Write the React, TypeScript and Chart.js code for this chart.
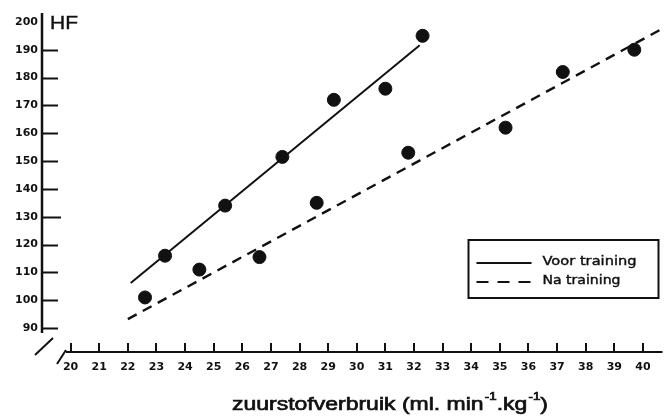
import React, { useEffect, useRef } from "react";
import { Chart, registerables } from "chart.js";

Chart.register(...registerables);

// Data
const voorX = [23.3, 25.4, 27.4, 29.2, 31.0, 32.3];
const voorY = [116, 134, 151.5, 172, 176, 195];
const naX = [22.6, 24.5, 26.6, 28.6, 31.8, 35.2, 37.2, 39.7];
const naY = [101, 111, 115.5, 135, 153, 162, 182, 190];
// Fitted lines (end points)
const voorLineX = [22.1, 32.2];
const voorLineY = [106.2, 191.6];
const naLineX = [22.0, 40.65];
const naLineY = [93.2, 197.4];
// Axis labels
const xTickValues = [20, 21, 22, 23, 24, 25, 26, 27, 28, 29, 30, 31, 32, 33, 34, 35, 36, 37, 38, 39, 40];
const yTickValues = [90, 100, 110, 120, 130, 140, 150, 160, 170, 180, 190, 200];
const legendLabels = ["Voor training", "Na training"];
const yTitle = "HF";
const xTitleParts = [
  { t: "zuurstofverbruik (ml. min", sup: false },
  { t: "-1", sup: true },
  { t: ".kg", sup: false },
  { t: "-1", sup: true },
  { t: ")", sup: false },
];

const pts = (xs: number[], ys: number[]) => xs.map((x, i) => ({ x, y: ys[i] }));

export default function App() {
  const ref = useRef<HTMLCanvasElement>(null);

  useEffect(() => {
    document.body.style.margin = "0";
    const canvas = ref.current!;
    const ink = "#111";

    const stretchText = (ctx: CanvasRenderingContext2D, text: string, x: number, y: number, targetW: number, heavy = 0) => {
      const w = ctx.measureText(text).width;
      ctx.save();
      ctx.translate(x, y);
      ctx.scale(targetW / w, 1);
      ctx.fillText(text, 0, 0);
      if (heavy > 0) {
        ctx.lineWidth = heavy;
        ctx.strokeText(text, 0, 0);
      }
      ctx.restore();
    };

    const deco = {
      id: "deco",
      afterDraw(chart: any) {
        const { ctx, chartArea: a, scales } = chart;
        const xs = scales.x;
        const ys = scales.y;
        ctx.save();
        ctx.strokeStyle = ink;
        ctx.fillStyle = ink;
        ctx.lineCap = "butt";

        // y axis line
        ctx.lineWidth = 2.5;
        ctx.beginPath();
        ctx.moveTo(a.left, a.top);
        ctx.lineTo(a.left, a.bottom - 19);
        ctx.stroke();
        // y break mark
        ctx.lineWidth = 2;
        ctx.beginPath();
        ctx.moveTo(a.left - 7, a.bottom + 3);
        ctx.lineTo(a.left + 11, a.bottom - 14);
        ctx.stroke();
        // x axis line
        ctx.lineWidth = 2;
        ctx.beginPath();
        ctx.moveTo(a.left + 24, a.bottom);
        ctx.lineTo(a.right + 1, a.bottom);
        ctx.stroke();
        // x break mark
        ctx.beginPath();
        ctx.moveTo(a.left + 15, a.bottom + 12);
        ctx.lineTo(a.left + 24, a.bottom - 2);
        ctx.stroke();

        // y ticks (inside)
        ctx.lineWidth = 2;
        ys.ticks.forEach((t: any) => {
          if (t.value >= 200) return;
          const py = Math.round(ys.getPixelForValue(t.value)) + 0.5;
          ctx.beginPath();
          ctx.moveTo(a.left, py);
          ctx.lineTo(a.left + (t.value === 130 ? 19 : 16), py);
          ctx.stroke();
        });
        // x ticks (inside)
        xs.ticks.forEach((t: any) => {
          const px = Math.round(xs.getPixelForValue(t.value));
          ctx.beginPath();
          ctx.moveTo(px, a.bottom);
          ctx.lineTo(px, a.bottom - 9);
          ctx.stroke();
        });

        // HF
        ctx.font = "19px 'Liberation Sans'";
        ctx.textBaseline = "alphabetic";
        ctx.textAlign = "left";
        stretchText(ctx, yTitle, a.left + 8, a.top + 16, 28, 0.4);

        // x title
        const mainFont = "19px 'Liberation Sans'";
        const supFont = "11px 'Liberation Sans'";
        let total = 0;
        const widths = xTitleParts.map((p) => {
          ctx.font = p.sup ? supFont : mainFont;
          const w = ctx.measureText(p.t).width + (p.sup ? 1 : 0);
          total += w;
          return w;
        });
        const targetW = 316;
        const sx = targetW / total;
        const cx = 390;
        const baseY = 410;
        ctx.save();
        ctx.translate(cx - targetW / 2, baseY);
        ctx.scale(sx, 1);
        ctx.lineWidth = 0.7;
        let off = 0;
        xTitleParts.forEach((p, i) => {
          ctx.font = p.sup ? supFont : mainFont;
          const tx = off + (p.sup ? 1 : 0);
          const ty = p.sup ? -10 : 0;
          ctx.fillText(p.t, tx, ty);
          ctx.strokeText(p.t, tx, ty);
          off += widths[i];
        });
        ctx.restore();

        // legend box
        const bx = a.right - 193;
        const by = a.top + 227;
        const bw = 190;
        const bh = 58;
        ctx.fillStyle = "#fff";
        ctx.fillRect(bx, by, bw, bh);
        ctx.fillStyle = ink;
        ctx.lineWidth = 2;
        ctx.strokeRect(bx, by, bw, bh);
        // samples
        ctx.lineWidth = 2.2;
        ctx.beginPath();
        ctx.moveTo(bx + 8, by + 23);
        ctx.lineTo(bx + 63, by + 23);
        ctx.stroke();
        ctx.setLineDash([12, 9]);
        ctx.beginPath();
        ctx.moveTo(bx + 8, by + 42);
        ctx.lineTo(bx + 63, by + 42);
        ctx.stroke();
        ctx.setLineDash([]);
        ctx.font = "12px 'DejaVu Sans'";
        ctx.textBaseline = "middle";
        stretchText(ctx, legendLabels[0], bx + 74, by + 22, 94, 0.4);
        stretchText(ctx, legendLabels[1], bx + 74, by + 41, 78, 0.4);

        ctx.restore();
      },
    };

    const chart = new Chart(canvas, {
      type: "scatter",
      data: {
        datasets: [
          {
            label: legendLabels[0] + " punten",
            data: pts(voorX, voorY),
            backgroundColor: ink,
            borderColor: ink,
            pointRadius: 6.5,
            showLine: false,
          },
          {
            label: legendLabels[1] + " punten",
            data: pts(naX, naY),
            backgroundColor: ink,
            borderColor: ink,
            pointRadius: 6.5,
            showLine: false,
          },
          {
            label: legendLabels[0],
            data: pts(voorLineX, voorLineY),
            borderColor: ink,
            borderWidth: 2,
            pointRadius: 0,
            showLine: true,
          },
          {
            label: legendLabels[1],
            data: pts(naLineX, naLineY),
            borderColor: ink,
            borderWidth: 2.4,
            borderDash: [10, 7],
            pointRadius: 0,
            showLine: true,
          },
        ],
      },
      options: {
        responsive: false,
        animation: false,
        devicePixelRatio: 1,
        layout: { padding: { top: 13, right: 1, left: 0, bottom: 0 } },
        plugins: { legend: { display: false }, tooltip: { enabled: false } },
        scales: {
          x: {
            type: "linear",
            min: 19,
            max: 40.65,
            grid: { display: false, drawTicks: false },
            border: { display: false },
            afterBuildTicks: (s: any) => {
              s.ticks = xTickValues.map((v) => ({ value: v }));
            },
            afterFit: (s: any) => {
              s.height = 67;
            },
            ticks: {
              autoSkip: false,
              maxRotation: 0,
              padding: 9,
              color: ink,
              font: { family: "'DejaVu Sans'", size: 11, weight: "bold" },
            },
          },
          y: {
            type: "linear",
            min: 81.4,
            max: 203.2,
            grid: { display: false, drawTicks: false },
            border: { display: false },
            afterBuildTicks: (s: any) => {
              s.ticks = yTickValues.map((v) => ({ value: v }));
            },
            afterFit: (s: any) => {
              s.width = 42;
            },
            ticks: {
              padding: 4,
              color: ink,
              font: { family: "'DejaVu Sans'", size: 11, weight: "bold" },
            },
          },
        },
      },
      plugins: [deco],
    });
    return () => chart.destroy();
  }, []);

  return (
    <div style={{ position: "absolute", left: 0, top: 0, width: 669, height: 419, background: "#fff" }}>
      <canvas ref={ref} width={669} height={419} style={{ display: "block" }} />
    </div>
  );
}
